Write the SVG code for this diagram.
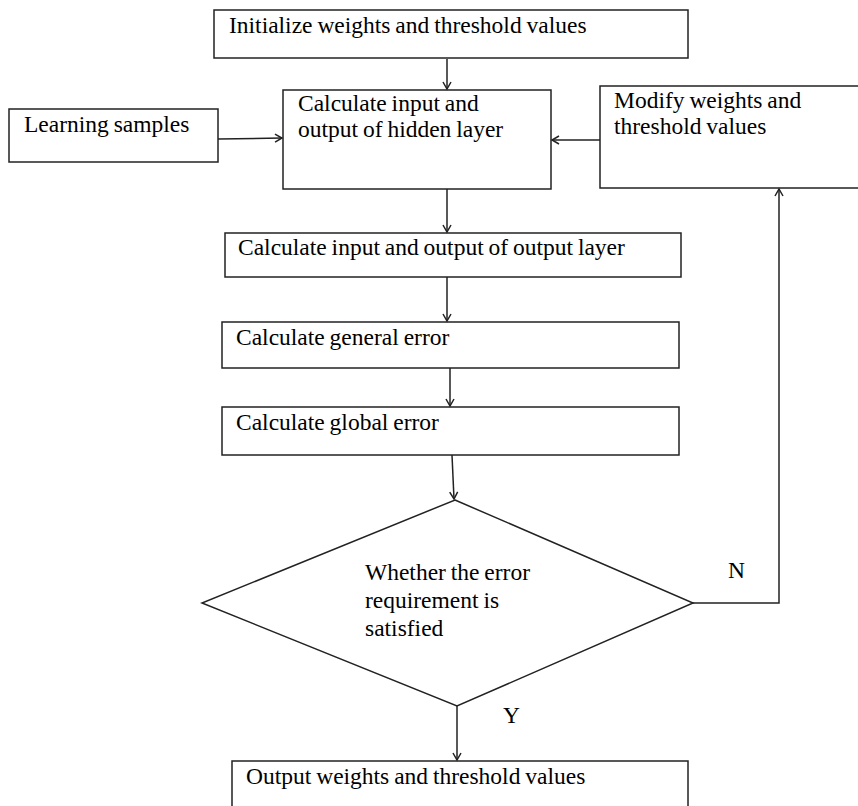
<svg xmlns="http://www.w3.org/2000/svg" width="858" height="806" viewBox="0 0 858 806">
<style>
.box{fill:#fff;stroke:#222;stroke-width:1.5}
.t{font-family:"Liberation Serif","Times New Roman",serif;font-size:23.5px;fill:#000;word-spacing:-1px}
.c{fill:none;stroke:#222;stroke-width:1.5}
</style>
<defs>
<marker id="ah" markerWidth="10" markerHeight="10" refX="8" refY="5" orient="auto" markerUnits="userSpaceOnUse">
<path d="M1,1 L8,5 L1,9" fill="none" stroke="#222" stroke-width="1.5"/>
</marker>
</defs>
<rect width="858" height="806" fill="#fff"/>
<g id="init">
<rect class="box" x="214" y="10" width="474" height="48"/>
<text class="t" x="229" y="33">Initialize weights and threshold values</text>
</g>
<g id="learning">
<rect class="box" x="9" y="109" width="209" height="53"/>
<text class="t" x="24" y="132">Learning samples</text>
</g>
<g id="hidden">
<rect class="box" x="283" y="90" width="268" height="99"/>
<text class="t" x="298" y="111">Calculate input and</text>
<text class="t" x="298" y="137">output of hidden layer</text>
</g>
<g id="modify">
<rect class="box" x="600" y="86" width="262" height="102"/>
<text class="t" x="614" y="108">Modify weights and</text>
<text class="t" x="614" y="134">threshold values</text>
</g>
<g id="outputlayer">
<rect class="box" x="225" y="233" width="456" height="44"/>
<text class="t" x="238" y="255">Calculate input and output of output layer</text>
</g>
<g id="general">
<rect class="box" x="222" y="322" width="457" height="46"/>
<text class="t" x="236" y="345">Calculate general error</text>
</g>
<g id="global">
<rect class="box" x="222" y="407" width="457" height="48"/>
<text class="t" x="236" y="430">Calculate global error</text>
</g>
<g id="decision">
<polygon class="box" points="455,500 693,603 457,706 202,603"/>
<text class="t" x="365" y="580">Whether the error</text>
<text class="t" x="365" y="608">requirement is</text>
<text class="t" x="365" y="636">satisfied</text>
</g>
<g id="output">
<rect class="box" x="232" y="761" width="456" height="60"/>
<text class="t" x="246" y="784">Output weights and threshold values</text>
</g>
<g id="connectors">
<line class="c" x1="447" y1="59" x2="447" y2="89" marker-end="url(#ah)"/>
<line class="c" x1="218" y1="139" x2="282" y2="138" marker-end="url(#ah)"/>
<line class="c" x1="600" y1="140" x2="552" y2="140" marker-end="url(#ah)"/>
<line class="c" x1="447" y1="189" x2="447" y2="232" marker-end="url(#ah)"/>
<line class="c" x1="447" y1="277" x2="447" y2="321" marker-end="url(#ah)"/>
<line class="c" x1="450" y1="368" x2="450" y2="406" marker-end="url(#ah)"/>
<line class="c" x1="452" y1="455" x2="454" y2="499" marker-end="url(#ah)"/>
<polyline class="c" points="693,603 779,603 779,189" marker-end="url(#ah)"/>
<line class="c" x1="457" y1="706" x2="457" y2="760" marker-end="url(#ah)"/>
<text class="t" x="728" y="578">N</text>
<text class="t" x="503" y="723">Y</text>
</g>
</svg>
